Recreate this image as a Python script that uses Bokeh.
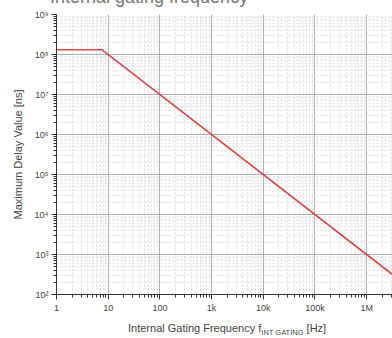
from bokeh.plotting import figure
from bokeh.models import FixedTicker, CustomJSTickFormatter, Range1d, Div
from bokeh.layouts import column
from bokeh.embed import file_html
from bokeh.resources import INLINE

# data
freq_hz = [1, 7.63, 1e7]
delay_ns = [1.31e8, 1.31e8, 100]
x_ticks = [1, 10, 100, 1e3, 1e4, 1e5, 1e6, 1e7]
x_tick_labels = ["1", "10", "100", "1k", "10k", "100k", "1M", "10M"]
y_ticks = [1e2, 1e3, 1e4, 1e5, 1e6, 1e7, 1e8, 1e9]
title_text = "Internal gating frequency"
y_title = "Maximum Delay Value [ns]"
x_title_main = "Internal Gating Frequency f"
x_title_sub = "INT GATING"
x_title_unit = "[Hz]"

x_minor = [m * d for d in [1, 10, 100, 1e3, 1e4, 1e5, 1e6] for m in range(2, 10)]
y_minor = [m * d for d in [1e2, 1e3, 1e4, 1e5, 1e6, 1e7, 1e8] for m in range(2, 10)]

font = "Liberation Sans"

p = figure(width=392, height=309, x_axis_type="log", y_axis_type="log",
           x_range=Range1d(1, 10 ** 6.5), y_range=Range1d(1e2, 1e9),
           output_backend="svg", toolbar_location=None,
           min_border_left=56, min_border_right=0, min_border_top=7,
           min_border_bottom=22, margin=0)
p.outline_line_color = None
p.background_fill_color = "white"

p.line(freq_hz, delay_ns, line_color="#d94a4a", line_width=1.6)

p.xaxis.ticker = FixedTicker(ticks=x_ticks, minor_ticks=x_minor)
p.yaxis.ticker = FixedTicker(ticks=y_ticks, minor_ticks=y_minor)
p.xaxis.formatter = CustomJSTickFormatter(args=dict(t=x_ticks, l=x_tick_labels), code="""
for (let i = 0; i < t.length; i++) { if (Math.abs(Math.log10(tick) - Math.log10(t[i])) < 1e-6) return l[i]; }
return '';
""")
p.yaxis.formatter = CustomJSTickFormatter(code="""
const s = ['\u2070','\u00b9','\u00b2','\u00b3','\u2074','\u2075','\u2076','\u2077','\u2078','\u2079'];
return '10' + s[Math.round(Math.log10(tick))];
""")
for ax in (p.xaxis[0], p.yaxis[0]):
    ax.axis_line_color = "#333333"
    ax.major_tick_line_color = "#333333"
    ax.minor_tick_line_color = "#333333"
    ax.major_tick_out = 5
    ax.major_tick_in = 0
    ax.minor_tick_out = 3
    ax.minor_tick_in = 0
    ax.major_label_text_font = font
    ax.major_label_text_font_size = "9px"
    ax.major_label_text_color = "#444444"
    ax.major_label_standoff = 3
p.yaxis.axis_label = y_title
p.yaxis.axis_label_text_font = font
p.yaxis.axis_label_text_font_size = "11px"
p.yaxis.axis_label_text_font_style = "normal"
p.yaxis.axis_label_text_color = "#444444"
p.yaxis.axis_label_standoff = 8

p.xgrid.ticker = p.xaxis[0].ticker
p.ygrid.ticker = p.yaxis[0].ticker
for g in (p.xgrid[0], p.ygrid[0]):
    g.grid_line_color = "#b0b0b0"
    g.grid_line_width = 1
    g.minor_grid_line_color = "#dedede"
    g.minor_grid_line_dash = "2 2"

title_div = Div(text=title_text, width=392, height=20, margin=0,
                styles={"font-family": font, "font-size": "18px", "line-height": "20px",
                        "color": "#777777", "padding-left": "50px", "white-space": "nowrap"})
x_div = Div(text=f"{x_title_main}<sub style='font-size:7.5px'>{x_title_sub}</sub> {x_title_unit}",
            width=392, height=22, margin=0,
            styles={"font-family": font, "font-size": "11px", "line-height": "24px",
                    "color": "#444444", "padding-left": "128px", "white-space": "nowrap"})

layout = column(title_div, p, x_div, spacing=0, styles={"margin-top": "-13px"})

open("out.html", "w").write(file_html(layout, INLINE))
